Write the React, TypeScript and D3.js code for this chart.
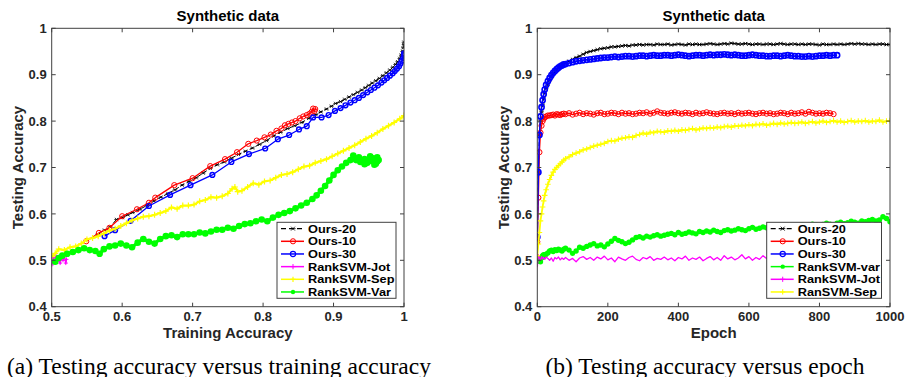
import React from "react";
import * as d3 from "d3";

// ---------------- DATA ----------------
const yTicks = [0.4, 0.5, 0.6, 0.7, 0.8, 0.9, 1];
const yTickLabels = ["0.4", "0.5", "0.6", "0.7", "0.8", "0.9", "1"];
const xTicksA = [0.5, 0.6, 0.7, 0.8, 0.9, 1];
const xTickLabelsA = ["0.5", "0.6", "0.7", "0.8", "0.9", "1"];
const xTicksB = [0, 200, 400, 600, 800, 1000];
const xTickLabelsB = ["0", "200", "400", "600", "800", "1000"];

// Left panel: [training accuracy, testing accuracy]
const leftOurs20: [number, number][] = [
  [0.565, 0.555], [0.575, 0.565], [0.583, 0.572], [0.592, 0.588], [0.6, 0.592], [0.608, 0.598], [0.615, 0.603],
  [0.625, 0.61], [0.635, 0.618], [0.645, 0.628], [0.655, 0.636], [0.665, 0.644], [0.675, 0.652], [0.685, 0.662],
  [0.695, 0.67], [0.705, 0.678], [0.715, 0.688], [0.725, 0.698], [0.735, 0.706], [0.745, 0.712], [0.755, 0.72],
  [0.765, 0.728], [0.775, 0.735], [0.785, 0.742], [0.795, 0.75], [0.805, 0.758], [0.815, 0.768], [0.825, 0.776],
  [0.835, 0.784], [0.845, 0.79], [0.855, 0.797], [0.865, 0.806], [0.875, 0.814], [0.882, 0.82], [0.89, 0.826],
  [0.897, 0.832], [0.903, 0.838], [0.91, 0.842], [0.916, 0.847], [0.922, 0.852], [0.928, 0.857], [0.934, 0.862],
  [0.94, 0.867], [0.945, 0.872], [0.95, 0.877], [0.955, 0.882], [0.96, 0.887], [0.965, 0.892], [0.97, 0.898],
  [0.975, 0.904], [0.98, 0.91], [0.984, 0.916], [0.988, 0.922], [0.991, 0.928], [0.994, 0.935], [0.996, 0.942],
  [0.998, 0.95], [0.999, 0.958], [1.0, 0.965], [1.0, 0.97],
];
const leftOurs10: [number, number][] = [
  [0.549, 0.541], [0.567, 0.559], [0.582, 0.57], [0.6, 0.595], [0.621, 0.61], [0.638, 0.624], [0.647, 0.635],
  [0.674, 0.662], [0.7, 0.677], [0.725, 0.703], [0.746, 0.718], [0.763, 0.733], [0.779, 0.751], [0.791, 0.758],
  [0.802, 0.765], [0.811, 0.771], [0.819, 0.779], [0.826, 0.784], [0.831, 0.791], [0.836, 0.794], [0.841, 0.797],
  [0.846, 0.8], [0.852, 0.806], [0.857, 0.81], [0.862, 0.813], [0.866, 0.816], [0.869, 0.82], [0.871, 0.827],
  [0.873, 0.822], [0.874, 0.826],
];
const leftOurs30: [number, number][] = [
  [0.575, 0.552], [0.59, 0.565], [0.612, 0.585], [0.638, 0.617], [0.668, 0.641], [0.697, 0.662], [0.728, 0.684],
  [0.755, 0.712], [0.78, 0.729], [0.803, 0.741], [0.821, 0.761], [0.837, 0.77], [0.851, 0.782], [0.862, 0.789],
  [0.871, 0.808], [0.883, 0.808], [0.893, 0.813], [0.902, 0.822], [0.91, 0.828], [0.917, 0.834], [0.924, 0.84],
  [0.93, 0.845], [0.936, 0.85], [0.942, 0.856], [0.948, 0.862], [0.953, 0.867], [0.958, 0.872], [0.963, 0.877],
  [0.968, 0.883], [0.972, 0.888], [0.976, 0.893], [0.98, 0.898], [0.984, 0.903], [0.987, 0.908], [0.99, 0.913],
  [0.993, 0.918], [0.995, 0.924], [0.997, 0.93], [0.999, 0.936], [1.0, 0.942], [1.0, 0.946],
];
const leftJot: [number, number][] = [
  [0.5, 0.49], [0.502, 0.506], [0.504, 0.496], [0.506, 0.51], [0.508, 0.498], [0.51, 0.504], [0.512, 0.494],
  [0.514, 0.508], [0.516, 0.5], [0.518, 0.51], [0.52, 0.494], [0.521, 0.502],
];
const leftSep: [number, number][] = [
  [0.5, 0.508], [0.505, 0.515], [0.51, 0.524], [0.518, 0.522], [0.526, 0.528], [0.534, 0.53], [0.542, 0.536],
  [0.55, 0.545], [0.558, 0.548], [0.566, 0.552], [0.574, 0.558], [0.582, 0.564], [0.59, 0.568], [0.598, 0.574],
  [0.606, 0.58], [0.614, 0.586], [0.622, 0.59], [0.63, 0.594], [0.638, 0.595], [0.646, 0.598], [0.654, 0.602],
  [0.662, 0.606], [0.67, 0.614], [0.678, 0.611], [0.686, 0.618], [0.694, 0.618], [0.702, 0.62], [0.71, 0.627],
  [0.718, 0.63], [0.726, 0.636], [0.734, 0.635], [0.742, 0.638], [0.75, 0.644], [0.756, 0.654], [0.76, 0.658],
  [0.764, 0.648], [0.77, 0.65], [0.778, 0.658], [0.786, 0.666], [0.794, 0.663], [0.802, 0.67], [0.81, 0.672],
  [0.818, 0.678], [0.826, 0.684], [0.834, 0.686], [0.842, 0.69], [0.85, 0.696], [0.858, 0.702], [0.866, 0.704],
  [0.874, 0.71], [0.882, 0.714], [0.89, 0.718], [0.898, 0.724], [0.906, 0.73], [0.914, 0.736], [0.922, 0.742],
  [0.93, 0.748], [0.938, 0.755], [0.946, 0.762], [0.954, 0.768], [0.962, 0.775], [0.97, 0.783], [0.978, 0.79],
  [0.986, 0.797], [0.994, 0.805], [1.0, 0.812],
];
const leftVar: [number, number][] = [
  [0.505, 0.497], [0.51, 0.505], [0.515, 0.51], [0.522, 0.514], [0.53, 0.518], [0.538, 0.522], [0.546, 0.526],
  [0.554, 0.522], [0.562, 0.52], [0.568, 0.514], [0.574, 0.524], [0.582, 0.53], [0.59, 0.532], [0.598, 0.536],
  [0.606, 0.532], [0.614, 0.528], [0.622, 0.538], [0.63, 0.546], [0.638, 0.54], [0.646, 0.536], [0.654, 0.546],
  [0.662, 0.552], [0.67, 0.554], [0.678, 0.55], [0.686, 0.556], [0.694, 0.556], [0.702, 0.556], [0.71, 0.56],
  [0.718, 0.558], [0.726, 0.562], [0.734, 0.566], [0.742, 0.566], [0.75, 0.57], [0.758, 0.568], [0.766, 0.574],
  [0.774, 0.578], [0.782, 0.58], [0.79, 0.584], [0.798, 0.588], [0.806, 0.584], [0.814, 0.592], [0.822, 0.598],
  [0.83, 0.602], [0.838, 0.606], [0.846, 0.612], [0.854, 0.618], [0.862, 0.624], [0.87, 0.632], [0.876, 0.64],
  [0.882, 0.65], [0.888, 0.66], [0.894, 0.672], [0.9, 0.684], [0.906, 0.694], [0.912, 0.702], [0.918, 0.71],
  [0.924, 0.716], [0.928, 0.726], [0.932, 0.716], [0.938, 0.712], [0.944, 0.718], [0.95, 0.714], [0.956, 0.72],
  [0.96, 0.708], [0.964, 0.716], [0.962, 0.722], [0.958, 0.706], [0.952, 0.724], [0.944, 0.707], [0.936, 0.722],
  [0.948, 0.71], [0.962, 0.713],
];

// Right panel: epochs and testing accuracy
const epochs = [
  0, 3, 6, 9, 12, 15, 18, 21, 25, 30, 35, 40, 45, 50, 55, 60, 65, 70, 75,
  80, 90, 100, 110, 120, 130, 140, 150, 160, 170, 180, 190, 200, 210, 220, 230, 240, 250, 260, 270, 280, 290,
  300, 310, 320, 330, 340, 350, 360, 370, 380, 390, 400, 410, 420, 430, 440, 450, 460, 470, 480, 490,
  500, 510, 520, 530, 540, 550, 560, 570, 580, 590, 600, 610, 620, 630, 640, 650, 660, 670, 680, 690,
  700, 710, 720, 730, 740, 750, 760, 770, 780, 790, 800, 810, 820, 830, 840, 850, 860, 870, 880, 890,
  900, 910, 920, 930, 940, 950, 960, 970, 980, 990, 1000,
];
const rightOurs20 = [
  0.55, 0.69, 0.77, 0.8, 0.82, 0.835, 0.85, 0.86, 0.87, 0.88, 0.888, 0.895, 0.902, 0.906, 0.91, 0.914, 0.918, 0.921, 0.924,
  0.926, 0.929, 0.933, 0.937, 0.94, 0.944, 0.948, 0.95, 0.952, 0.954, 0.956, 0.957, 0.958, 0.96, 0.96, 0.961, 0.962, 0.963,
  0.962, 0.964, 0.964, 0.965, 0.964, 0.965, 0.965, 0.964, 0.966, 0.965, 0.965, 0.966, 0.964, 0.965, 0.966, 0.965, 0.964,
  0.966, 0.965, 0.966, 0.965, 0.965, 0.966, 0.967, 0.966, 0.965, 0.966, 0.967, 0.966, 0.968, 0.967, 0.966, 0.966, 0.967,
  0.966, 0.965, 0.966, 0.966, 0.965, 0.966, 0.966, 0.965, 0.966, 0.967, 0.966, 0.965, 0.966, 0.966, 0.965, 0.966, 0.965,
  0.966, 0.966, 0.965, 0.964, 0.966, 0.965, 0.965, 0.966, 0.965, 0.966, 0.965, 0.966, 0.967, 0.966, 0.967, 0.966, 0.966,
  0.965, 0.966, 0.965, 0.966, 0.966, 0.965, 0.965,
];
const rightOurs10 = [
  0.54, 0.635, 0.733, 0.775, 0.79, 0.8, 0.805, 0.808, 0.81, 0.812, 0.812, 0.813, 0.814, 0.812, 0.815, 0.814, 0.813, 0.815, 0.816,
  0.815, 0.817, 0.814, 0.816, 0.818, 0.815, 0.817, 0.816, 0.814, 0.817, 0.818, 0.815, 0.816, 0.818, 0.817, 0.815, 0.818,
  0.816, 0.817, 0.815, 0.816, 0.818, 0.817, 0.819, 0.816, 0.818, 0.821, 0.818, 0.817, 0.816, 0.818, 0.819, 0.817, 0.816,
  0.818, 0.817, 0.815, 0.818, 0.816, 0.817, 0.819, 0.817, 0.816, 0.815, 0.817, 0.818, 0.816, 0.817, 0.815, 0.818, 0.816,
  0.817, 0.818, 0.816, 0.815, 0.817, 0.818, 0.816, 0.817, 0.815, 0.816, 0.818, 0.817, 0.815, 0.818, 0.816, 0.817, 0.819,
  0.816, 0.82, 0.818, 0.816, 0.817, 0.816, 0.818, 0.817, 0.815,
];
const rightOurs30 = [
  0.55, 0.69, 0.77, 0.81, 0.83, 0.845, 0.858, 0.868, 0.878, 0.886, 0.893, 0.899, 0.904, 0.908, 0.912, 0.915, 0.918, 0.92, 0.922,
  0.923, 0.925, 0.927, 0.929, 0.93, 0.931, 0.932, 0.933, 0.934, 0.935, 0.936, 0.937, 0.937, 0.938, 0.939, 0.938, 0.939,
  0.94, 0.94, 0.939, 0.94, 0.941, 0.941, 0.94, 0.941, 0.942, 0.941, 0.941, 0.942, 0.942, 0.941, 0.942, 0.943, 0.942,
  0.941, 0.94, 0.941, 0.942, 0.942, 0.941, 0.942, 0.943, 0.942, 0.943, 0.943, 0.944, 0.943, 0.942, 0.943, 0.942, 0.941,
  0.941, 0.942, 0.943, 0.942, 0.941, 0.941, 0.94, 0.94, 0.941, 0.941, 0.94, 0.941, 0.942, 0.941, 0.94, 0.94, 0.939,
  0.939, 0.94, 0.939, 0.94, 0.941, 0.941, 0.942, 0.941, 0.942, 0.942,
];
const rightVar = [
  0.505, 0.5, 0.498, 0.497, 0.505, 0.51, 0.512, 0.511, 0.513, 0.516, 0.52, 0.522, 0.519, 0.523, 0.521, 0.524, 0.522, 0.52, 0.524,
  0.526, 0.522, 0.515, 0.52, 0.528, 0.526, 0.53, 0.533, 0.536, 0.531, 0.533, 0.529, 0.535, 0.541, 0.547, 0.543, 0.54,
  0.536, 0.539, 0.544, 0.549, 0.551, 0.548, 0.552, 0.55, 0.553, 0.555, 0.552, 0.554, 0.556, 0.558, 0.555, 0.56, 0.556,
  0.558, 0.561, 0.559, 0.557, 0.562, 0.56, 0.563, 0.561, 0.565, 0.562, 0.56, 0.564, 0.566, 0.563, 0.565, 0.568, 0.566,
  0.564, 0.568, 0.571, 0.567, 0.569, 0.572, 0.57, 0.568, 0.571, 0.573, 0.571, 0.569, 0.573, 0.575, 0.572, 0.574, 0.576,
  0.573, 0.575, 0.578, 0.576, 0.574, 0.577, 0.58, 0.578, 0.576, 0.58, 0.582, 0.579, 0.581, 0.584, 0.582, 0.58, 0.585,
  0.583, 0.586, 0.588, 0.585, 0.587, 0.594, 0.59, 0.583,
];
const rightJot = [
  0.485, 0.512, 0.505, 0.5, 0.508, 0.503, 0.506, 0.502, 0.507, 0.504, 0.5, 0.505, 0.498, 0.506, 0.503, 0.507, 0.501, 0.505, 0.502,
  0.506, 0.5, 0.504, 0.497, 0.505, 0.508, 0.502, 0.506, 0.5, 0.507, 0.503, 0.509, 0.501, 0.505, 0.497, 0.507, 0.503,
  0.5, 0.506, 0.509, 0.502, 0.499, 0.506, 0.503, 0.508, 0.5, 0.504, 0.502, 0.507, 0.501, 0.505, 0.499, 0.506, 0.503,
  0.509, 0.5, 0.505, 0.502, 0.507, 0.499, 0.504, 0.508, 0.501, 0.506, 0.5, 0.51, 0.503, 0.507, 0.501, 0.505, 0.512,
  0.503, 0.508, 0.5, 0.506, 0.502, 0.51, 0.504, 0.508,
];
const rightSep = [
  0.51, 0.535, 0.56, 0.585, 0.6, 0.615, 0.628, 0.64, 0.652, 0.664, 0.674, 0.683, 0.69, 0.696, 0.7, 0.704, 0.708, 0.712, 0.716,
  0.719, 0.723, 0.728, 0.731, 0.734, 0.738, 0.74, 0.743, 0.746, 0.748, 0.75, 0.752, 0.756, 0.758, 0.757, 0.761, 0.763,
  0.764, 0.766, 0.765, 0.769, 0.771, 0.774, 0.772, 0.776, 0.775, 0.778, 0.777, 0.776, 0.779, 0.778, 0.78, 0.778, 0.781,
  0.78, 0.782, 0.784, 0.781, 0.783, 0.785, 0.784, 0.786, 0.785, 0.787, 0.786, 0.788, 0.789, 0.787, 0.79, 0.789, 0.791,
  0.79, 0.792, 0.79, 0.793, 0.792, 0.794, 0.791, 0.793, 0.795, 0.793, 0.796, 0.794, 0.795, 0.797, 0.795, 0.796, 0.798,
  0.795, 0.797, 0.799, 0.796, 0.798, 0.8, 0.797, 0.799, 0.801, 0.798, 0.8, 0.797, 0.799, 0.801, 0.798, 0.8, 0.799,
  0.801, 0.798, 0.8, 0.799, 0.802, 0.798, 0.8, 0.801,
];

// ---------------- STYLE ----------------
const SANS = "'Liberation Sans', Arial, Helvetica, sans-serif";
const SERIF = "'Liberation Serif', 'Times New Roman', serif";
const AXIS = "#404040";

type MarkerType = "star" | "circle" | "plus" | "dot" | "none";
interface Series {
  name: string;
  color: string;
  marker: MarkerType;
  dash?: string;
  width: number;
  mSize: number;
  mWidth: number;
  points: [number, number][];
}

function Marker({ type, x, y, color, size, sw }: { type: MarkerType; x: number; y: number; color: string; size: number; sw: number }) {
  if (type === "circle") return <circle cx={x} cy={y} r={size} fill="none" stroke={color} strokeWidth={sw} />;
  if (type === "dot") return <circle cx={x} cy={y} r={size} fill={color} stroke="none" />;
  if (type === "plus")
    return (
      <path d={`M${x - size},${y}H${x + size}M${x},${y - size}V${y + size}`} stroke={color} strokeWidth={sw} fill="none" />
    );
  if (type === "star") {
    const d = size * 0.75;
    return (
      <path
        d={`M${x - size},${y}H${x + size}M${x - d},${y - d}L${x + d},${y + d}M${x - d},${y + d}L${x + d},${y - d}`}
        stroke={color}
        strokeWidth={sw}
        fill="none"
      />
    );
  }
  return null;
}

interface PanelProps {
  id: string;
  left: number;
  right: number;
  xDomain: [number, number];
  xTicks: number[];
  xTickLabels: string[];
  xLabel: string;
  series: Series[];
  legendOrder: string[];
  legendLeft: number;
  legendRight: number;
  caption: string;
  captionX: number;
}

const TOP = 28.3;
const BOTTOM = 306.7;

function Panel(p: PanelProps) {
  const x = d3.scaleLinear().domain(p.xDomain).range([p.left, p.right]);
  const y = d3.scaleLinear().domain([0.4, 1]).range([BOTTOM, TOP]);
  const line = d3
    .line<[number, number]>()
    .x((d) => x(d[0]))
    .y((d) => y(d[1]));
  const cx = (p.left + p.right) / 2;
  const legTop = 222.3;
  const legBottom = 298.3;
  const rowH = (legBottom - legTop) / 6;
  const tick = 4;
  return (
    <g>
      <defs>
        <clipPath id={`clip-${p.id}`}>
          <rect x={p.left} y={TOP} width={p.right - p.left} height={BOTTOM - TOP} />
        </clipPath>
      </defs>
      <rect x={p.left} y={TOP} width={p.right - p.left} height={BOTTOM - TOP} fill="#fff" />
      <g clipPath={`url(#clip-${p.id})`}>
        {p.series.map((s) => (
          <g key={s.name}>
            <path d={line(s.points) || ""} fill="none" stroke={s.color} strokeWidth={s.width} strokeDasharray={s.dash} strokeLinejoin="round" />
            {s.marker !== "none" &&
              s.points.map((pt, i) => (
                <Marker key={i} type={s.marker} x={x(pt[0])} y={y(pt[1])} color={s.color} size={s.mSize} sw={s.mWidth} />
              ))}
          </g>
        ))}
      </g>
      {/* axes box */}
      <rect x={p.left} y={TOP} width={p.right - p.left} height={BOTTOM - TOP} fill="none" stroke={AXIS} strokeWidth={1} />
      {p.xTicks.map((t, i) => (
        <g key={`xt${i}`}>
          <line x1={x(t)} x2={x(t)} y1={BOTTOM} y2={BOTTOM - tick} stroke={AXIS} />
          <line x1={x(t)} x2={x(t)} y1={TOP} y2={TOP + tick} stroke={AXIS} />
          <text x={x(t)} y={321} textAnchor="middle" fontFamily={SANS} fontWeight="bold" fontSize={13} fill="#262626">
            {p.xTickLabels[i]}
          </text>
        </g>
      ))}
      {yTicks.map((t, i) => (
        <g key={`yt${i}`}>
          <line x1={p.left} x2={p.left + tick} y1={y(t)} y2={y(t)} stroke={AXIS} />
          <line x1={p.right} x2={p.right - tick} y1={y(t)} y2={y(t)} stroke={AXIS} />
          <text x={p.left - 5} y={y(t) + 4.6} textAnchor="end" fontFamily={SANS} fontWeight="bold" fontSize={13} fill="#262626">
            {yTickLabels[i]}
          </text>
        </g>
      ))}
      <text x={cx} y={21} textAnchor="middle" fontFamily={SANS} fontWeight="bold" fontSize={15} fill="#000">
        Synthetic data
      </text>
      <text x={cx} y={338.3} textAnchor="middle" fontFamily={SANS} fontWeight="bold" fontSize={15} fill="#262626">
        {p.xLabel}
      </text>
      <text
        transform={`translate(${p.left - 28.5},${(TOP + BOTTOM) / 2}) rotate(-90)`}
        textAnchor="middle"
        fontFamily={SANS}
        fontWeight="bold"
        fontSize={15}
        fill="#262626"
      >
        Testing Accuracy
      </text>
      {/* legend */}
      <rect x={p.legendLeft} y={legTop} width={p.legendRight - p.legendLeft} height={legBottom - legTop} fill="#fff" stroke={AXIS} strokeWidth={1} />
      {p.legendOrder.map((name, i) => {
        const s = p.series.find((q) => q.name === name)!;
        const ry = legTop + rowH * (i + 0.5);
        const lx0 = p.legendLeft + 4;
        const lx1 = p.legendLeft + 27;
        const mx = p.legendLeft + 16;
        return (
          <g key={name}>
            <line x1={lx0} x2={lx1} y1={ry} y2={ry} stroke={s.color} strokeWidth={s.name === "Ours-20" ? 1.2 : 1.5} strokeDasharray={s.dash ? "5,3" : undefined} />
            <Marker type={s.marker === "none" ? "plus" : s.marker} x={mx} y={ry} color={s.color} size={s.marker === "dot" ? 2.2 : 2.6} sw={Math.min(s.mWidth, 1.2)} />
            <text
              transform={`translate(${p.legendLeft + 31},${ry + 4.1}) scale(1.13,1)`}
              fontFamily={SANS}
              fontWeight="bold"
              fontSize={11.3}
              fill="#000"
            >
              {name}
            </text>
          </g>
        );
      })}
      <text x={p.captionX} y={373.5} textAnchor="middle" fontFamily={SERIF} fontSize={23.5} fill="#000">
        {p.caption}
      </text>
    </g>
  );
}

function zipEpochs(vals: number[]): [number, number][] {
  const n = Math.min(vals.length, epochs.length);
  const out: [number, number][] = [];
  for (let i = 0; i < n; i++) out.push([epochs[i], vals[i]]);
  return out;
}

export default function App() {
  const leftSeries: Series[] = [
    { name: "Ours-20", color: "#000000", marker: "star", dash: "4,2.5", width: 1, mSize: 2.2, mWidth: 0.8, points: leftOurs20 },
    { name: "Ours-10", color: "#ff0000", marker: "circle", width: 1.3, mSize: 2.6, mWidth: 1, points: leftOurs10 },
    { name: "Ours-30", color: "#0000ff", marker: "circle", width: 1.3, mSize: 2.4, mWidth: 1.4, points: leftOurs30 },
    { name: "RankSVM-Jot", color: "#ff00ff", marker: "plus", width: 1.5, mSize: 2, mWidth: 1, points: leftJot },
    { name: "RankSVM-Sep", color: "#ffff00", marker: "plus", width: 2.2, mSize: 3, mWidth: 1.2, points: leftSep },
    { name: "RankSVM-Var", color: "#00ff00", marker: "dot", width: 3.2, mSize: 3.3, mWidth: 1, points: leftVar },
  ];
  const rightSeries: Series[] = [
    { name: "Ours-20", color: "#000000", marker: "star", dash: "4,2.5", width: 1, mSize: 2.2, mWidth: 0.9, points: zipEpochs(rightOurs20) },
    { name: "Ours-10", color: "#ff0000", marker: "circle", width: 1.3, mSize: 2.6, mWidth: 1, points: zipEpochs(rightOurs10) },
    { name: "Ours-30", color: "#0000ff", marker: "circle", width: 1.5, mSize: 2.6, mWidth: 1.6, points: zipEpochs(rightOurs30) },
    { name: "RankSVM-var", color: "#00ff00", marker: "dot", width: 2, mSize: 2.7, mWidth: 1, points: zipEpochs(rightVar) },
    { name: "RankSVM-Jot", color: "#ff00ff", marker: "none", width: 1.3, mSize: 2, mWidth: 1, points: zipEpochs(rightJot) },
    { name: "RanSVM-Sep", color: "#ffff00", marker: "plus", width: 1.8, mSize: 2.8, mWidth: 1.1, points: zipEpochs(rightSep) },
  ];
  return (
    <svg
      width={906}
      height={377}
      viewBox="0 0 906 377"
      style={{ position: "absolute", left: 0, top: 0, background: "#fff" }}
    >
      <rect x={0} y={0} width={906} height={377} fill="#fff" />
      <Panel
        id="a"
        left={51.7}
        right={404}
        xDomain={[0.5, 1]}
        xTicks={xTicksA}
        xTickLabels={xTickLabelsA}
        xLabel="Training Accuracy"
        series={leftSeries}
        legendOrder={["Ours-20", "Ours-10", "Ours-30", "RankSVM-Jot", "RankSVM-Sep", "RankSVM-Var"]}
        legendLeft={277}
        legendRight={396}
        caption="(a) Testing accuracy versus training accuracy"
        captionX={219}
      />
      <Panel
        id="b"
        left={537.3}
        right={890}
        xDomain={[0, 1000]}
        xTicks={xTicksB}
        xTickLabels={xTickLabelsB}
        xLabel="Epoch"
        series={rightSeries}
        legendOrder={["Ours-20", "Ours-10", "Ours-30", "RankSVM-var", "RankSVM-Jot", "RanSVM-Sep"]}
        legendLeft={766.7}
        legendRight={881.5}
        caption="(b) Testing accuracy versus epoch"
        captionX={705}
      />
    </svg>
  );
}
